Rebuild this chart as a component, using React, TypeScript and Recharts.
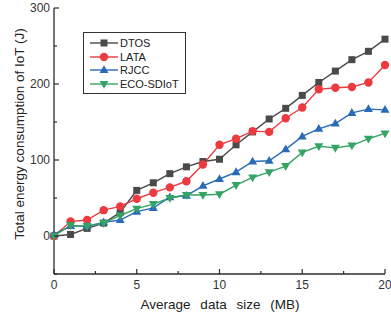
import React from "react"
import { LineChart, Line, XAxis, YAxis, Legend } from "recharts"

// x = average data size (MB)
const SIZES = [0, 1, 2, 3, 4, 5, 6, 7, 8, 9, 10, 11, 12, 13, 14, 15, 16, 17, 18, 19, 20]
const DTOS = [0, 2, 10, 17, 31, 60, 70, 82, 91, 98, 101, 120, 137, 154, 168, 185, 202, 217, 232, 243, 259]
const LATA = [0, 19, 21, 34, 39, 49, 57, 64, 72, 94, 120, 128, 138, 137, 155, 169, 193, 195, 196, 202, 225]
const RJCC = [2, 13, 13, 18, 21, 32, 37, 51, 53, 66, 75, 84, 98, 99, 114, 131, 141, 148, 162, 167, 166]
const ECO = [0, 14, 13, 17, 27, 36, 42, 50, 54, 54, 55, 67, 77, 84, 92, 110, 118, 116, 119, 128, 135]

const X_TICKS = [0, 2.5, 5, 7.5, 10, 12.5, 15, 17.5, 20]
const Y_TICKS = [-50, 0, 50, 100, 150, 200, 250, 300]

const SERIES = [
  { key: "dtos", name: "DTOS", color: "#4a4a4a", shape: "square", values: DTOS },
  { key: "lata", name: "LATA", color: "#ec3b40", shape: "circle", values: LATA },
  { key: "rjcc", name: "RJCC", color: "#2a6bb8", shape: "up", values: RJCC },
  { key: "eco", name: "ECO-SDIoT", color: "#34a464", shape: "down", values: ECO },
]

const data = SIZES.map((x, i) => {
  const row: Record<string, number> = { x }
  SERIES.forEach((s) => (row[s.key] = s.values[i]))
  return row
})

const FONT = "'Liberation Sans', Arial, sans-serif"
const AXIS = "#2b2b2b"

function Marker({ shape, cx, cy, color }: any) {
  if (cx == null || cy == null) return null
  if (shape === "square") return <rect x={cx - 3.5} y={cy - 3.5} width={7} height={7} fill={color} />
  if (shape === "circle") return <circle cx={cx} cy={cy} r={4.2} fill={color} />
  if (shape === "up")
    return <polygon points={`${cx},${cy - 4.8} ${cx + 4.5},${cy + 3} ${cx - 4.5},${cy + 3}`} fill={color} />
  return <polygon points={`${cx},${cy + 4.8} ${cx + 4.5},${cy - 3} ${cx - 4.5},${cy - 3}`} fill={color} />
}

const isMajorX = (v: number) => v % 5 === 0
const isMajorY = (v: number) => v % 100 === 0

// inward ticks, drawn by hand
const BottomTick = ({ x, y, payload }: any) => {
  const major = isMajorX(payload.value)
  return (
    <g>
      <line x1={x} y1={y} x2={x} y2={y - (major ? 5 : 3)} stroke={AXIS} strokeWidth={1.2} />
      {major && (
        <text x={x} y={y + 15} textAnchor="middle" fontSize={12} fill="#333" fontFamily={FONT}>
          {payload.value}
        </text>
      )}
    </g>
  )
}

const TopTick = ({ x, y, payload }: any) => {
  const major = isMajorX(payload.value)
  return <line x1={x} y1={y} x2={x} y2={y + (major ? 5 : 3)} stroke={AXIS} strokeWidth={1.2} />
}

const LeftTick = ({ x, y, payload }: any) => {
  const major = isMajorY(payload.value)
  return (
    <g>
      <line x1={x} y1={y} x2={x + (major ? 5 : 3)} y2={y} stroke={AXIS} strokeWidth={1.2} />
      {major && (
        <text x={x - 4} y={y + 4} textAnchor="end" fontSize={12} fill="#333" fontFamily={FONT}>
          {payload.value}
        </text>
      )}
    </g>
  )
}

const RightTick = ({ x, y, payload }: any) => {
  const major = isMajorY(payload.value)
  return <line x1={x} y1={y} x2={x - (major ? 5 : 3)} y2={y} stroke={AXIS} strokeWidth={1.2} />
}

const LegendBox = () => (
  <div
    style={{
      border: "1px solid #333",
      background: "#fff",
      width: 101,
      padding: "3px 0 2px 0",
      fontFamily: FONT,
      fontSize: 11,
      color: "#222",
    }}
  >
    {SERIES.map((s) => (
      <div key={s.key} style={{ display: "flex", alignItems: "center", height: 13.8 }}>
        <svg width={36} height={12} style={{ marginLeft: 5 }}>
          <line x1={1} y1={6} x2={29} y2={6} stroke={s.color} strokeWidth={1.4} />
          <Marker shape={s.shape} cx={15} cy={6} color={s.color} />
        </svg>
        <span style={{ marginLeft: -5 }}>{s.name}</span>
      </div>
    ))}
  </div>
)

export default function App() {
  return (
    <div style={{ position: "absolute", left: 0, top: 0, background: "#fff" }}>
      <LineChart width={391} height={320} data={data} margin={{ top: 8, right: 6, bottom: 16, left: 14 }}>
        <XAxis
          dataKey="x"
          type="number"
          domain={[0, 20]}
          ticks={X_TICKS}
          interval={0}
          height={30}
          tickSize={0}
          tickMargin={0}
          tickLine={false}
          axisLine={{ stroke: AXIS, strokeWidth: 1.3 }}
          tick={<BottomTick />}
          label={{
            content: () => (
              <text x={220} y={309} textAnchor="middle" fontSize={13.5} fill="#222" fontFamily={FONT} wordSpacing={6}>
                Average data size (MB)
              </text>
            ),
          }}
        />
        <XAxis
          xAxisId="top"
          orientation="top"
          type="number"
          domain={[0, 20]}
          ticks={X_TICKS}
          interval={0}
          height={0}
          tickSize={0}
          tickMargin={0}
          tickLine={false}
          axisLine={{ stroke: AXIS, strokeWidth: 1.3 }}
          tick={<TopTick />}
        />
        <YAxis
          type="number"
          domain={[-50, 300]}
          ticks={Y_TICKS}
          interval={0}
          width={40}
          allowDataOverflow
          tickSize={0}
          tickMargin={0}
          tickLine={false}
          axisLine={{ stroke: AXIS, strokeWidth: 1.3 }}
          tick={<LeftTick />}
          label={{
            content: () => (
              <text
                x={24}
                y={134}
                textAnchor="middle"
                fontSize={13.5}
                fill="#222"
                fontFamily={FONT}
                transform="rotate(-90, 24, 134)"
              >
                Total energy consumption of IoT (J)
              </text>
            ),
          }}
        />
        <YAxis
          yAxisId="right"
          orientation="right"
          type="number"
          domain={[-50, 300]}
          ticks={Y_TICKS}
          interval={0}
          width={0}
          allowDataOverflow
          tickSize={0}
          tickMargin={0}
          tickLine={false}
          axisLine={{ stroke: AXIS, strokeWidth: 1.3 }}
          tick={<RightTick />}
        />
        <Legend
          layout="vertical"
          align="center"
          verticalAlign="middle"
          content={() => <LegendBox />}
          wrapperStyle={{ left: 83, top: 32, width: "auto", height: "auto" }}
        />
        {SERIES.map((s) => (
          <Line
            key={s.key}
            dataKey={s.key}
            name={s.name}
            stroke={s.color}
            strokeWidth={1.4}
            isAnimationActive={false}
            dot={(p: any) => <Marker key={`${s.key}-${p.index}`} shape={s.shape} cx={p.cx} cy={p.cy} color={s.color} />}
            activeDot={false}
          />
        ))}
      </LineChart>
    </div>
  )
}
